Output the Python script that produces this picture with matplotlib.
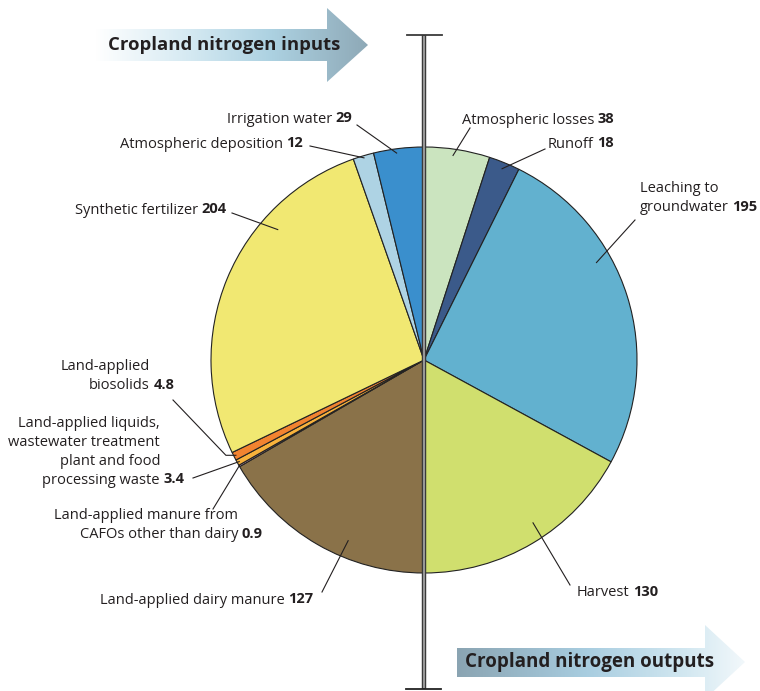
import numpy as np
import matplotlib.pyplot as plt
from matplotlib.patches import Polygon
from matplotlib.colors import LinearSegmentedColormap

plt.rcParams['font.family'] = ['Open Sans', 'DejaVu Sans']

# slices clockwise from 12 o'clock: outputs on the right, inputs on the left
names = ['Atmospheric losses', 'Runoff', 'Leaching to\ngroundwater', 'Harvest',
         'Land-applied dairy manure',
         'Land-applied manure from\nCAFOs other than dairy',
         'Land-applied liquids,\nwastewater treatment\nplant and food\nprocessing waste',
         'Land-applied\nbiosolids', 'Synthetic fertilizer',
         'Atmospheric deposition', 'Irrigation water']
values = [38, 18, 195, 130, 127, 0.9, 3.4, 4.8, 204, 12, 29]
value_labels = ['38', '18', '195', '130', '127', '0.9', '3.4', '4.8', '204', '12', '29']
colors = ['#cbe4bf', '#3b5a8a', '#62b1cf', '#d0df6e', '#8a7249', '#f2b6d2',
          '#f8b23c', '#f28330', '#f1e872', '#aed3e4', '#3a8fcd']

# label layout: text anchor, alignment, leader start, leader end (fraction of wedge angle, fraction of radius)
label_xy = [(462, 120), (548, 144), (640, 198), (577, 593), (100, 600), (238, 525),
            (160, 452), (150, 376), (75, 210), (120, 144), (227, 119)]
label_ha = ['left', 'left', 'left', 'left', 'left', 'right', 'right', 'right', 'left', 'left', 'left']
lead_start = [(470, 128), (545, 149), (635, 220), (570, 585), (322, 592), (213, 509),
              (193, 478), (173, 400), (232, 213), (310, 146), (357, 125)]
lead_end = [(0.45, 0.97), (0.5, 0.97), (0.37, 0.93), (0.45, 0.92), (0.38, 0.92),
            (0.5, 1.0), (0.5, 0.99), (0.5, 0.99), (0.70, 0.92), (0.5, 0.99), (0.45, 0.98)]

cx, cy, R = 424, 360, 213

fig = plt.figure(figsize=(7.6, 6.91), dpi=100)
ax = fig.add_axes([0, 0, 1, 1])

# y axis runs downward, so counterclockwise in data is clockwise on screen
wedges, _ = ax.pie(values, colors=colors, startangle=-90, counterclock=True,
                   center=(cx, cy), radius=R,
                   wedgeprops=dict(edgecolor='#222222', linewidth=0.8))

ax.set_xlim(0, 760)
ax.set_ylim(691, 0)
ax.set_aspect('equal')
ax.axis('off')

fs = 10.5
for i, w in enumerate(wedges):
    ha = label_ha[i]
    x, y = label_xy[i]
    body = ax.text(x, y, names[i], fontsize=fs, ha=ha, va='center',
                   multialignment=ha, color='#231f20', linespacing=1.35)
    # bold value hangs after the last line
    ax.annotate(value_labels[i], xy=(1, 0), xycoords=body, xytext=(2.5, 1),
                textcoords='offset points', ha='left', va='bottom',
                fontsize=fs, fontweight='bold', color='#231f20')
    t, rf = lead_end[i]
    ang = np.deg2rad(w.theta1 + t * (w.theta2 - w.theta1))
    ex, ey = cx + rf * R * np.cos(ang), cy + rf * R * np.sin(ang)
    sx, sy = lead_start[i]
    if i == 7:
        # biosolids leader has a short horizontal elbow
        ax.plot([sx, ex - 10, ex], [sy, ey, ey], color='#231f20', lw=0.8, zorder=5)
    else:
        ax.plot([sx, ex], [sy, ey], color='#231f20', lw=0.8, zorder=5)


def gradient_arrow(pts, x0, x1, stops, y0, y1):
    cmap = LinearSegmentedColormap.from_list('g', stops)
    grad = np.linspace(0, 1, 256).reshape(1, -1)
    im = ax.imshow(grad, cmap=cmap, extent=(x0, x1, y1, y0), aspect='auto', zorder=1)
    poly = Polygon(pts, closed=True, facecolor='none', edgecolor='none')
    ax.add_patch(poly)
    im.set_clip_path(poly)


# inputs arrow (top left)
gradient_arrow([(95, 29), (327, 29), (327, 8), (368, 45), (327, 82), (327, 61), (95, 61)],
               95, 368, [(0, '#ffffff'), (0.35, '#d4e9f2'), (0.65, '#acd1e1'), (1, '#8ea9b7')],
               5, 85)
ax.text(108, 45, 'Cropland nitrogen inputs', fontsize=13.3, fontweight='bold',
        ha='left', va='center', color='#231f20', zorder=3)

# outputs arrow (bottom right)
gradient_arrow([(457, 648), (705, 648), (705, 625), (745, 662), (705, 699), (705, 677), (457, 677)],
               457, 745, [(0, '#8aa4b2'), (0.45, '#a8cde0'), (0.8, '#d3e8f1'), (1, '#f2f8fb')],
               620, 691)
ax.text(465, 662, 'Cropland nitrogen outputs', fontsize=13.5, fontweight='bold',
        ha='left', va='center', color='#231f20', zorder=3)

# divider between inputs and outputs
ax.plot([cx, cx], [35, 689], color='#3a3a3a', lw=3.2, zorder=6, solid_capstyle='butt')
ax.plot([cx, cx], [36, 688], color='#9a9a9a', lw=1.4, zorder=7, solid_capstyle='butt')
ax.plot([407, 442], [35, 35], color='#3a3a3a', lw=1.3, zorder=8)
ax.plot([406, 441], [689, 689], color='#222222', lw=1.3, zorder=8)

fig.savefig('out.png', dpi=100)
